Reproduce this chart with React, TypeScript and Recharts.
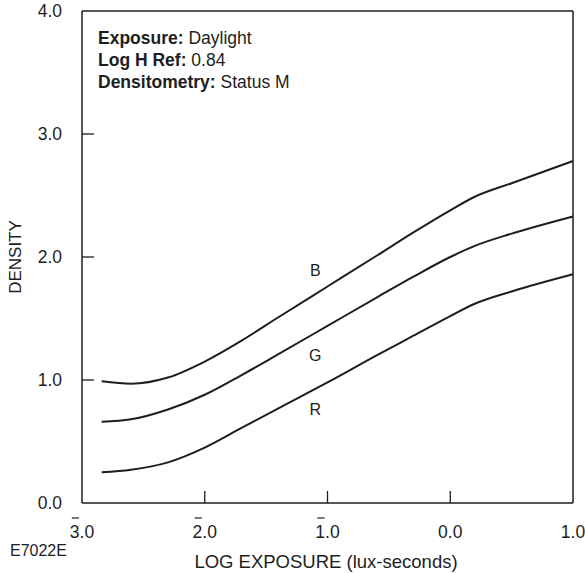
import { LineChart, Line, XAxis, YAxis, ReferenceLine, ReferenceDot } from "recharts";

// log exposure sample points
const LOG_H = [-2.84, -2.6, -2.3, -2.0, -1.7, -1.4, -1.0, -0.6, -0.3, 0.0, 0.2, 0.5, 1.0];
const B_DENSITY = [0.99, 0.97, 1.02, 1.15, 1.32, 1.51, 1.76, 2.01, 2.2, 2.38, 2.49, 2.6, 2.78];
const G_DENSITY = [0.66, 0.68, 0.76, 0.88, 1.04, 1.21, 1.44, 1.67, 1.84, 2.0, 2.09, 2.19, 2.33];
const R_DENSITY = [0.25, 0.27, 0.33, 0.45, 0.61, 0.77, 0.98, 1.2, 1.36, 1.52, 1.62, 1.72, 1.86];

const X_TICKS = [-3, -2, -1, 0, 1];
const Y_TICKS = [0, 1, 2, 3, 4];

const CURVE_LABELS = [
  { name: "B", x: -1.1, y: 1.89 },
  { name: "G", x: -1.1, y: 1.2 },
  { name: "R", x: -1.1, y: 0.76 },
];

const NOTES = [
  { key: "Exposure:", value: "Daylight" },
  { key: "Log H Ref:", value: "0.84" },
  { key: "Densitometry:", value: "Status M" },
];

const data = LOG_H.map((x, i) => ({ x, B: B_DENSITY[i], G: G_DENSITY[i], R: R_DENSITY[i] }));

const FONT = "'Liberation Sans', Arial, Helvetica, sans-serif";
const INK = "#1e1e1e";
const TICK_FS = 17.5;
const X_MARGIN = 35;
const Y_MARGIN = 20;
const TICK_LEN = 12;

function XTick(props: any) {
  const { x, y, payload } = props;
  const v = payload.value as number;
  const label = Math.abs(v).toFixed(1);
  const w = 1.39 * TICK_FS;
  const start = x - w / 2;
  const axisY = y - X_MARGIN;
  return (
    <g>
      {v > -3 && v < 1 && (
        <line x1={x} x2={x} y1={axisY} y2={axisY - TICK_LEN} stroke={INK} strokeWidth={1.3} />
      )}
      {v < 0 && (
        <line x1={start + 2} x2={start + 0.5 * TICK_FS + 0.5} y1={y - 20} y2={y - 20} stroke={INK} strokeWidth={1.2} />
      )}
      <text x={x} y={y} textAnchor="middle" fontSize={TICK_FS} fontFamily={FONT} fill={INK}>
        {label}
      </text>
    </g>
  );
}

function YTick(props: any) {
  const { x, y, payload } = props;
  const v = payload.value as number;
  const axisX = x + Y_MARGIN;
  return (
    <g>
      {v > 0 && v < 4 && (
        <line x1={axisX} x2={axisX + TICK_LEN} y1={y} y2={y} stroke={INK} strokeWidth={1.3} />
      )}
      <text x={x} y={y} dy="0.36em" textAnchor="end" fontSize={TICK_FS} fontFamily={FONT} fill={INK}>
        {v.toFixed(1)}
      </text>
    </g>
  );
}

export default function App() {
  return (
    <div style={{ position: "absolute", left: 0, top: 0, width: 585, height: 573, background: "#fff" }}>
      <LineChart width={585} height={573} data={data} margin={{ top: 11, right: 12, bottom: 0, left: 0 }}>
        <XAxis
          dataKey="x"
          type="number"
          domain={[-3, 1]}
          ticks={X_TICKS}
          height={70}
          tickSize={0}
          tickMargin={X_MARGIN}
          tickLine={false}
          tick={<XTick />}
          axisLine={{ stroke: INK, strokeWidth: 1.5 }}
          interval={0}
        />
        <YAxis
          type="number"
          domain={[0, 4]}
          ticks={Y_TICKS}
          width={82}
          tickSize={0}
          tickMargin={Y_MARGIN}
          tickLine={false}
          tick={<YTick />}
          axisLine={{ stroke: INK, strokeWidth: 1.5 }}
          interval={0}
        />
        <ReferenceLine y={4} stroke={INK} strokeWidth={1.5} />
        <ReferenceLine x={1} stroke={INK} strokeWidth={1.5} />
        <Line type="monotone" dataKey="B" stroke={INK} strokeWidth={2} dot={false} isAnimationActive={false} />
        <Line type="monotone" dataKey="G" stroke={INK} strokeWidth={2} dot={false} isAnimationActive={false} />
        <Line type="monotone" dataKey="R" stroke={INK} strokeWidth={2} dot={false} isAnimationActive={false} />
        {CURVE_LABELS.map((c) => (
          <ReferenceDot
            key={c.name}
            x={c.x}
            y={c.y}
            r={0}
            stroke="none"
            fill="none"
            label={{ value: c.name, position: "center", fontSize: 16, fontFamily: FONT, fill: INK }}
          />
        ))}
      </LineChart>
      <svg width={585} height={573} style={{ position: "absolute", left: 0, top: 0, pointerEvents: "none" }}>
        <g fontFamily={FONT} fill={INK}>
          {NOTES.map((n, i) => (
            <text key={n.key} x={98} y={44 + i * 22} fontSize={17.5}>
              <tspan fontWeight="bold">{n.key}</tspan>
              <tspan> {n.value}</tspan>
            </text>
          ))}
          <text transform="translate(21,257) rotate(-90)" textAnchor="middle" fontSize={17}>
            DENSITY
          </text>
          <text x={326} y={568} textAnchor="middle" fontSize={18.5}>
            LOG EXPOSURE (lux-seconds)
          </text>
          <text x={10} y={556} fontSize={16}>
            E7022E
          </text>
        </g>
      </svg>
    </div>
  );
}
